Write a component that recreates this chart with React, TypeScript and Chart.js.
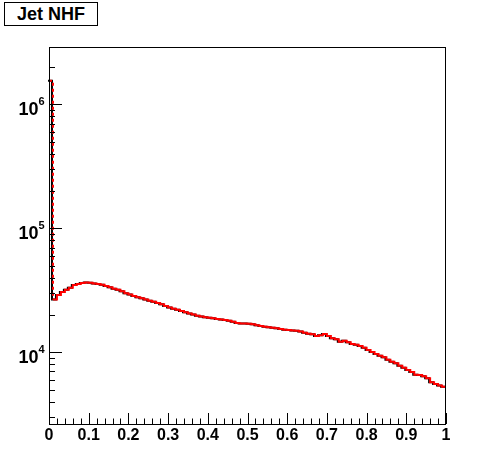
import React, { useEffect, useRef } from "react";
import { Chart, registerables } from "chart.js";

Chart.register(...registerables);

// Histogram "Jet NHF": 100 bins from 0 to 1
const titleText = "Jet NHF";
const binLow = 0;
const binHigh = 1;
const binCount = 100;

const binValues: number[] = [
  1550000, 26700, 29000, 30700, 32000, 33200, 34900, 35500, 36200, 36500,
  36400, 35800, 35500, 35100, 34200, 33400, 32600, 31900, 31000, 30000,
  29200, 28400, 27800, 27300, 26600, 26100, 25600, 25000, 24400, 23600,
  23000, 22400, 22000, 21500, 21000, 20600, 20200, 19700, 19400, 19200,
  19000, 18800, 18600, 18400, 18200, 18000, 17600, 17200, 17100, 17100,
  17000, 16800, 16500, 16300, 16100, 15900, 15800, 15600, 15400, 15200,
  15100, 15000, 14900, 14700, 14400, 14100, 14000, 13550, 13700, 14050,
  13550, 12970, 12730, 12170, 12400, 12040, 11660, 11500, 11240, 10900,
  10440, 10050, 9700, 9390, 9100, 8700, 8400, 8150, 7800, 7500,
  7200, 6950, 6600, 6560, 6400, 6170, 5730, 5550, 5400, 5280,
];

const xTickValues = [0, 0.1, 0.2, 0.3, 0.4, 0.5, 0.6, 0.7, 0.8, 0.9, 1];
const xTickLabels = ["0", "0.1", "0.2", "0.3", "0.4", "0.5", "0.6", "0.7", "0.8", "0.9", "1"];
const yDecades = [4, 5, 6];
const yMin = 2640;
const yMax = 2900000;

const FONT = '"Liberation Sans", Arial, Helvetica, sans-serif';

function buildPoints() {
  const w = (binHigh - binLow) / binCount;
  const pts = binValues.map((v, i) => ({ x: binLow + i * w, y: v }));
  pts.push({ x: binHigh, y: binValues[binValues.length - 1] });
  return pts;
}

const rootAxes = {
  id: "rootAxes",
  beforeDatasetDraw(chart: any, args: any) {
    if (args.index === 1) {
      chart.ctx.save();
      chart.ctx.translate(-1, 0);
    }
  },
  afterDatasetDraw(chart: any, args: any) {
    if (args.index === 1) chart.ctx.restore();
  },
  afterDraw(chart: any) {
    const ctx = chart.ctx as CanvasRenderingContext2D;
    const { left, right, top, bottom } = chart.chartArea;
    const xs = chart.scales.x;
    const ys = chart.scales.y;
    ctx.save();
    ctx.strokeStyle = "#000";
    ctx.lineWidth = 1;
    ctx.strokeRect(Math.round(left) + 0.5, Math.round(top) + 0.5, Math.round(right - left) - 1, Math.round(bottom - top));
    ctx.beginPath();
    for (let i = 0; i <= 50; i++) {
      const v = i * 0.02;
      const px = Math.round(xs.getPixelForValue(v)) + 0.5;
      const len = i % 5 === 0 ? 11 : 5.5;
      ctx.moveTo(px, bottom);
      ctx.lineTo(px, bottom - len);
    }
    for (let k = 3; k <= 6; k++) {
      for (let m = 1; m <= 9; m++) {
        const val = m * Math.pow(10, k);
        if (val < yMin || val > yMax) continue;
        const py = Math.round(ys.getPixelForValue(val)) + 0.5;
        const len = m === 1 ? 13 : 6;
        ctx.moveTo(left, py);
        ctx.lineTo(left + len, py);
      }
    }
    ctx.stroke();
    ctx.fillStyle = "#000";
    for (const k of yDecades) {
      const py = ys.getPixelForValue(Math.pow(10, k));
      ctx.font = `bold 18px ${FONT}`;
      ctx.textAlign = "right";
      ctx.textBaseline = "alphabetic";
      ctx.fillText("10", 38.5, py + 10.5);
      ctx.font = `bold 11px ${FONT}`;
      ctx.textAlign = "left";
      ctx.fillText(String(k), 38.5, py + 0.8);
    }
    ctx.restore();
  },
};

export default function App() {
  const canvasRef = useRef<HTMLCanvasElement | null>(null);

  useEffect(() => {
    if (!canvasRef.current) return;
    const pts = buildPoints();
    const chart = new Chart(canvasRef.current, {
      type: "line",
      data: {
        datasets: [
          {
            data: pts,
            borderColor: "#ff0000",
            borderWidth: 2,
            pointRadius: 0,
            stepped: "before",
            fill: false,
            segment: {
              borderDash: (c: any) => (c.p0DataIndex === 0 ? [3, 3] : undefined),
            },
          },
          {
            data: pts,
            borderColor: "#000000",
            borderWidth: 2,
            pointRadius: 0,
            stepped: "before",
            fill: false,
          },
        ],
      },
      options: {
        responsive: false,
        animation: false,
        devicePixelRatio: 1,
        layout: { padding: { top: 47, right: 50, left: 0, bottom: 0 } },
        plugins: {
          legend: { display: false },
          tooltip: { enabled: false },
          title: { display: false },
        },
        scales: {
          x: {
            type: "linear",
            min: binLow,
            max: binHigh,
            grid: { display: false, drawTicks: false },
            border: { display: false },
            afterBuildTicks: (scale: any) => {
              scale.ticks = xTickValues.map((v) => ({ value: v }));
            },
            afterFit: (scale: any) => {
              scale.height = 48;
            },
            ticks: {
              autoSkip: false,
              maxRotation: 0,
              padding: 2,
              color: "#000",
              font: { family: FONT, size: 16, weight: "bold" },
              callback: (v: any) => {
                const idx = xTickValues.findIndex((t) => Math.abs(t - Number(v)) < 1e-9);
                return idx >= 0 ? xTickLabels[idx] : "";
              },
            },
          },
          y: {
            type: "logarithmic",
            min: yMin,
            max: yMax,
            grid: { display: false, drawTicks: false },
            border: { display: false },
            ticks: { display: false },
            afterFit: (scale: any) => {
              scale.width = 49;
            },
          },
        },
      },
      plugins: [rootAxes],
    });
    return () => chart.destroy();
  }, []);

  return (
    <div style={{ position: "fixed", left: 0, top: 0, width: 496, height: 472, background: "#fff" }}>
      <canvas ref={canvasRef} width={496} height={472} style={{ display: "block", width: 496, height: 472 }} />
      <div
        style={{
          position: "absolute",
          left: 4,
          top: 2,
          width: 94,
          height: 24,
          boxSizing: "border-box",
          border: "1px solid #000",
          background: "#fff",
          fontFamily: FONT,
          fontWeight: "bold",
          fontSize: 18,
          lineHeight: "22px",
          textAlign: "center",
          color: "#000",
        }}
      >
        {titleText}
      </div>
    </div>
  );
}
